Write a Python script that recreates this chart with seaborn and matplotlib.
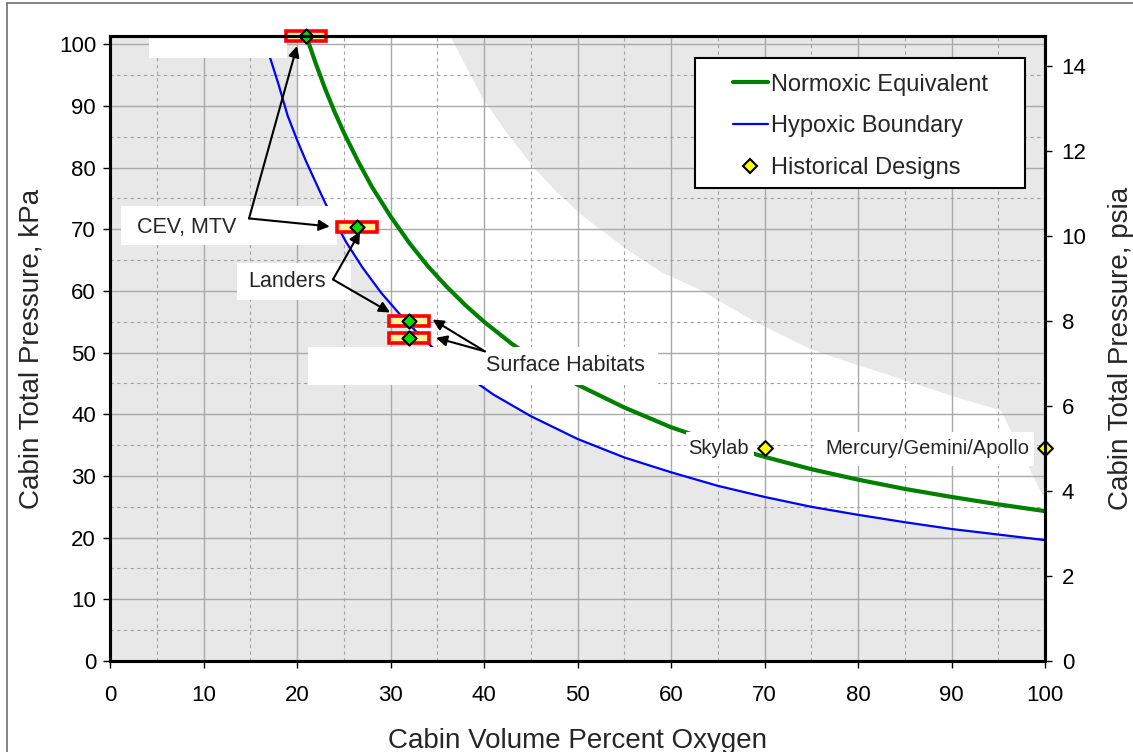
"""Cabin atmosphere design space: total pressure vs. oxygen fraction."""

import matplotlib
matplotlib.use("Agg")
import matplotlib.pyplot as plt
import matplotlib.patches as mpatches
from matplotlib.lines import Line2D
from matplotlib.ticker import MultipleLocator
import seaborn as sns
import pandas as pd

KPA_PER_PSI = 6.89476

# Normoxic equivalent curve
normoxic_pct = [21, 22, 23, 24, 25, 26.5, 28, 30, 32, 34, 36, 38, 40, 43, 46, 50,
                55, 60, 65, 70, 75, 80, 85, 90, 95, 100]
normoxic_kpa = [101.3, 96.9, 92.8, 89.1, 85.7, 81.1, 76.9, 72.1, 67.8, 64.0, 60.7, 57.7,
                55.0, 51.4, 48.3, 44.8, 41.1, 37.9, 35.3, 33.1, 31.1, 29.4, 27.9, 26.6,
                25.4, 24.3]

# Hypoxic boundary curve
hypoxic_pct = [17.1, 18, 19, 20, 21, 22, 23, 24, 25.3, 27, 29, 31, 33, 35, 38, 41, 45,
               50, 55, 60, 65, 70, 75, 80, 85, 90, 95, 100]
hypoxic_kpa = [97.9, 93.6, 88.4, 84.5, 80.9, 77.6, 74.3, 71.4, 67.8, 63.8, 59.7, 56.2,
               53.0, 50.1, 46.4, 43.2, 39.7, 36.0, 33.0, 30.6, 28.4, 26.6, 25.0, 23.7,
               22.5, 21.4, 20.5, 19.6]

# Upper edge of the unshaded (acceptable) zone
flam_pct = [36.4, 39.9, 42.5, 45.2, 47.8, 50.6, 55.3, 59.0, 63.1, 69.0, 75.0, 79.1,
            85.0, 90.0, 95.3, 98.4, 100.0]
flam_kpa = [101.3, 91.1, 85.5, 80.2, 76.0, 72.1, 66.7, 63.0, 60.2, 55.0, 50.5, 48.4,
            45.5, 43.0, 40.6, 31.0, 26.1]
zone_corner_pct = [20.0, 20.0]
zone_corner_kpa = [101.325, 84.5]

# Historical designs
historical_names = ["Skylab", "Mercury/Gemini/Apollo"]
historical_pct = [70.0, 100.0]
historical_psia = [5.0, 5.0]

# Current design points (CEV/MTV, landers, surface habitats)
design_pct = [21.0, 26.4, 32.0, 32.0]
design_psia = [14.7, 10.2, 8.0, 7.6]

hist = pd.DataFrame({"pct": historical_pct, "kpa": [p * KPA_PER_PSI for p in historical_psia]})
design = pd.DataFrame({"pct": design_pct, "kpa": [p * KPA_PER_PSI for p in design_psia]})

sns.set_theme(style="white")
plt.rcParams["font.family"] = ["Liberation Sans", "DejaVu Sans"]

fig = plt.figure(figsize=(11.33, 7.52), dpi=100)
ax = fig.add_axes([110 / 1133, 91 / 752, 935 / 1133, 625 / 752])
ax.set_facecolor("#e8e8e8")

# white acceptable zone between hypoxic boundary and upper edge
edge = [(x, y) for x, y in zip(hypoxic_pct, hypoxic_kpa) if x > 20]
poly_x = [zone_corner_pct[0]] + flam_pct + [x for x, _ in reversed(edge)] + [zone_corner_pct[1]]
poly_y = [zone_corner_kpa[0]] + flam_kpa + [y for _, y in reversed(edge)] + [zone_corner_kpa[1]]
ax.fill(poly_x, poly_y, color="white", lw=0, zorder=1)

ax.set_xlim(0, 100)
ax.set_ylim(0, 101.325)
ax.xaxis.set_major_locator(MultipleLocator(10))
ax.xaxis.set_minor_locator(MultipleLocator(5))
ax.yaxis.set_major_locator(MultipleLocator(10))
ax.yaxis.set_minor_locator(MultipleLocator(5))
ax.grid(which="major", color="#a9a9a9", lw=1.0, ls="-")
ax.grid(which="minor", color="#a0a0a0", lw=0.8, ls=(0, (3, 3)))
ax.set_axisbelow("line")

sns.lineplot(x=normoxic_pct, y=normoxic_kpa, sort=False, estimator=None,
             color="#008000", lw=3.0, ax=ax, zorder=2, legend=False)
sns.lineplot(x=hypoxic_pct, y=hypoxic_kpa, sort=False, estimator=None,
             color="#0000ff", lw=1.6, ax=ax, zorder=2, legend=False)

# white label backgrounds (they hide curves/grid behind them)
label_boxes = [
    (4.17, 97.7, 14.8, 5.1),
    (1.18, 67.37, 23.1, 6.33),
    (13.58, 58.6, 12.2, 6.0),
    (21.18, 44.81, 37.4, 6.16),
    (61.6, 31.66, 7.3, 5.52),
    (75.5, 31.66, 23.3, 5.52),
]
for x0, y0, w, h in label_boxes:
    ax.add_patch(mpatches.Rectangle((x0, y0), w, h, facecolor="white", edgecolor="none",
                                    zorder=3, clip_on=False))

ax.text(2.89, 70.3, "CEV, MTV", fontsize=15.5, va="center", ha="left", zorder=4)
ax.text(14.76, 61.6, "Landers", fontsize=15.5, va="center", ha="left", zorder=4)
ax.text(40.21, 47.9, "Surface Habitats", fontsize=15.5, va="center", ha="left", zorder=4)
for name, x, y in zip(historical_names, hist["pct"], hist["kpa"]):
    ax.text(x - 1.7, y, name, fontsize=14.5, va="center", ha="right", zorder=4)

# highlight boxes around the design points
for x, y in zip(design["pct"], design["kpa"]):
    ax.add_patch(mpatches.Rectangle((x - 2.15, y - 0.8), 4.3, 1.6, facecolor="#fff3a0",
                                    edgecolor="#ff0000", lw=2.6, zorder=5, clip_on=False))

sns.scatterplot(data=design, x="pct", y="kpa", marker="D", s=52, color="#00e000",
                edgecolor="black", linewidth=1.5, ax=ax, zorder=6, clip_on=False, legend=False)
sns.scatterplot(data=hist, x="pct", y="kpa", marker="D", s=56, color="#ffff00",
                edgecolor="black", linewidth=1.5, ax=ax, zorder=6, clip_on=False, legend=False)

arrows = [
    ((14.87, 71.75), (20.0, 99.7)),
    ((14.87, 71.75), (23.5, 70.45)),
    ((23.85, 61.85), (26.74, 69.6)),
    ((23.85, 61.85), (29.95, 56.5)),
    ((40.1, 50.2), (34.5, 55.35)),
    ((40.1, 50.2), (34.87, 52.4)),
]
for start, end in arrows:
    ax.annotate("", xy=end, xytext=start, zorder=7,
                arrowprops=dict(arrowstyle="-|>", color="black", lw=1.5,
                                mutation_scale=16, shrinkA=0, shrinkB=0))

ax.set_xlabel("Cabin Volume Percent Oxygen", fontsize=20, labelpad=16)
ax.set_ylabel("Cabin Total Pressure, kPa", fontsize=20, labelpad=10.5)
ax.tick_params(axis="both", which="major", direction="out", length=5, width=1,
               color="black", labelsize=16, labelcolor="black", bottom=True, left=True)
ax.tick_params(axis="x", which="major", pad=12)
ax.tick_params(axis="y", which="major", pad=5)
ax.tick_params(which="minor", length=0)

ax2 = ax.twinx()
ax2.set_ylim(0, 101.325 / KPA_PER_PSI)
ax2.yaxis.set_major_locator(MultipleLocator(2))
ax2.tick_params(axis="y", direction="out", length=5, width=1, color="black",
                labelsize=16, labelcolor="black", right=True, pad=7)
ax2.set_ylabel("Cabin Total Pressure, psia", fontsize=20, labelpad=15.5)
ax2.grid(False)

for a in (ax, ax2):
    for side in a.spines.values():
        side.set_color("black")
        side.set_linewidth(2.2)
        side.set_zorder(9)

# legend with its own frame
frame = mpatches.Rectangle((0.6257, 0.7568), 0.3529, 0.208, transform=ax.transAxes,
                           facecolor="white", edgecolor="black", lw=1.5, zorder=8)
ax.add_patch(frame)
handles = [
    Line2D([], [], color="#008000", lw=3.0),
    Line2D([], [], color="#0000ff", lw=1.6),
    Line2D([], [], ls="none", marker="D", ms=7, mfc="#ffff00", mec="black", mew=1.5),
]
leg = ax.legend(handles, ["Normoxic Equivalent", "Hypoxic Boundary", "Historical Designs"],
                loc="upper left", bbox_to_anchor=(0.6663, 0.940), frameon=False, fontsize=17,
                handlelength=1.48, handletextpad=0.13, labelspacing=0.84,
                borderpad=0, borderaxespad=0)
leg.set_zorder(9)

# outer border of the picture
fig.add_artist(Line2D([7 / 1133, 7 / 1133], [0, 1 - 3 / 752], transform=fig.transFigure,
                      color="#707070", lw=1.2))
fig.add_artist(Line2D([7 / 1133, 1], [1 - 3 / 752, 1 - 3 / 752], transform=fig.transFigure,
                      color="#707070", lw=1.2))

fig.savefig("out.png", dpi=100)
